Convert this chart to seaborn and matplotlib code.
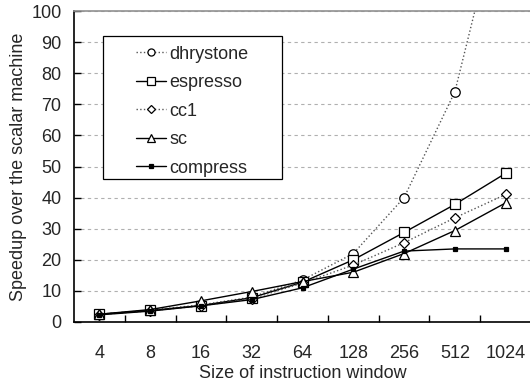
import matplotlib
matplotlib.use("Agg")
import matplotlib.pyplot as plt
from matplotlib.patches import Rectangle
import seaborn as sns
import pandas as pd
import numpy as np

# Instruction window sizes (categorical x axis)
window_sizes = ["4", "8", "16", "32", "64", "128", "256", "512", "1024"]

# Speedup over the scalar machine for each benchmark
dhrystone = [2.5, 3.8, 5.5, 8.0, 13.5, 22.0, 40.0, 74.0, 140.0]
espresso = [2.5, 3.7, 5.3, 7.8, 12.8, 20.0, 28.8, 37.8, 47.8]
cc1 = [2.4, 3.6, 5.2, 7.5, 12.5, 18.3, 25.5, 33.5, 41.0]
sc = [2.5, 4.0, 6.8, 9.8, 13.0, 16.0, 22.0, 29.4, 38.3]
compress = [2.3, 3.5, 5.2, 7.2, 11.0, 17.0, 22.8, 23.5, 23.5]

series = {
    "dhrystone": dhrystone,
    "espresso": espresso,
    "cc1": cc1,
    "sc": sc,
    "compress": compress,
}

styles = {
    "dhrystone": dict(ls=":", color="#555555", marker="o", ms=6.8, mfc="white"),
    "espresso": dict(ls="-", color="black", marker="s", ms=6.8, mfc="white"),
    "cc1": dict(ls=":", color="#555555", marker="D", ms=5.2, mfc="white"),
    "sc": dict(ls="-", color="black", marker="^", ms=7.0, mfc="white"),
    "compress": dict(ls="-", color="black", marker="s", ms=3.0, mfc="black"),
}

FS = 13

sns.set_theme(style="white")
plt.rcParams["font.family"] = ["Liberation Sans", "DejaVu Sans"]
plt.rcParams["font.size"] = FS

fig = plt.figure(figsize=(5.30, 3.82), dpi=100)
ax = fig.add_axes([74 / 530, 60 / 382, 457 / 530, 311 / 382])

pos = np.arange(len(window_sizes))
for name, vals in series.items():
    df = pd.DataFrame({"x": pos, "y": vals})
    st = styles[name]
    sns.lineplot(
        data=df, x="x", y="y", ax=ax, label=name,
        linestyle=st["ls"], color=st["color"], linewidth=1.0,
        marker=st["marker"], markersize=st["ms"],
        markerfacecolor=st["mfc"], markeredgecolor="black",
        markeredgewidth=0.9,
    )

ax.set_xlim(-0.5, len(window_sizes) - 0.5)
ax.set_ylim(0, 100)
ax.set_yticks(np.arange(0, 101, 10))
ax.set_xticks(pos)
ax.set_xticklabels(window_sizes)
ax.set_xticks(pos[:-1] + 0.5, minor=True)

ax.yaxis.grid(True, color="#b0b0b0", linestyle=(0, (3, 3)), linewidth=0.8)
ax.xaxis.grid(False)
ax.tick_params(axis="y", which="major", direction="in", length=5, width=1,
               color="black", left=True, labelsize=FS, pad=9)
ax.tick_params(axis="x", which="major", length=0, labelsize=FS, pad=16.5)
ax.tick_params(axis="x", which="minor", direction="in", length=5, width=1,
               color="black", bottom=True)

for side in ("left", "bottom"):
    ax.spines[side].set_color("black")
    ax.spines[side].set_linewidth(1.2)
ax.spines["top"].set_color("#909090")
ax.spines["top"].set_linewidth(1.2)
ax.spines["right"].set_visible(False)

ax.set_xlabel("Size of instruction window", fontsize=FS, labelpad=2.5)
ax.set_ylabel("Speedup over the scalar machine", fontsize=FS, labelpad=3)

# legend box drawn as a plain frame, entries placed inside it
ax.add_patch(Rectangle((0.0635, 0.4598), 0.455 - 0.0635, 0.9196 - 0.4598,
                       transform=ax.transAxes, facecolor="white",
                       edgecolor="black", linewidth=0.9, zorder=4))
leg = ax.legend(loc="upper left", bbox_to_anchor=(0.135, 0.889),
                borderaxespad=0, borderpad=0, frameon=False,
                fontsize=FS, handlelength=1.7, markerscale=0.75,
                labelspacing=0.64, handletextpad=0.15)
leg.set_zorder(5)

fig.savefig("out.png", dpi=100)
